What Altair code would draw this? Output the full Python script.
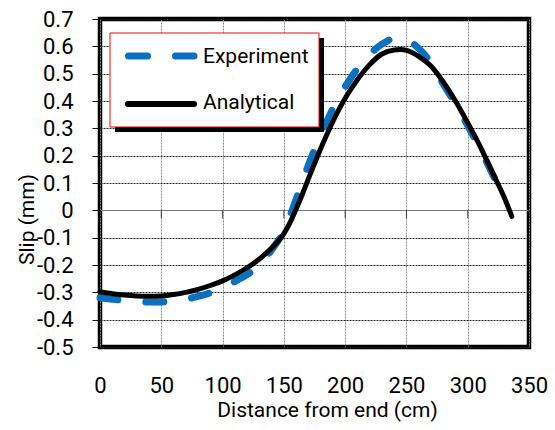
import altair as alt
import pandas as pd

# Measured slip along the bar (experiment)
DIST_EXP = [0, 10, 20, 30, 40, 50, 60, 70, 80, 90, 100, 110, 120, 130, 140, 150,
            160, 170, 180, 190, 200, 210, 220, 230, 240, 245, 250, 260, 270, 280,
            290, 300, 310, 320, 330]
SLIP_EXP = [-0.320, -0.325, -0.330, -0.334, -0.335, -0.335, -0.332, -0.325, -0.315,
            -0.302, -0.285, -0.260, -0.235, -0.200, -0.145, -0.075, 0.040, 0.165,
            0.275, 0.372, 0.452, 0.518, 0.570, 0.608, 0.630, 0.633, 0.626, 0.592,
            0.540, 0.462, 0.390, 0.310, 0.225, 0.135, 0.040]

# Analytical prediction
DIST_ANA = [0, 10, 20, 30, 40, 50, 60, 70, 80, 90, 100, 110, 120, 130, 140, 150,
            155, 160, 165, 170, 180, 190, 200, 210, 220, 230, 240, 245, 250, 260,
            270, 280, 290, 300, 310, 320, 330, 336]
SLIP_ANA = [-0.298, -0.305, -0.310, -0.313, -0.314, -0.313, -0.308, -0.300, -0.289,
            -0.275, -0.258, -0.236, -0.210, -0.178, -0.138, -0.085, -0.045, 0.005,
            0.058, 0.115, 0.225, 0.325, 0.410, 0.478, 0.533, 0.572, 0.587, 0.588,
            0.585, 0.563, 0.528, 0.470, 0.400, 0.320, 0.235, 0.140, 0.045, -0.022]

SERIES = ["Experiment", "Analytical"]
X_TICKS = [0, 50, 100, 150, 200, 250, 300, 350]
Y_TICKS = [-0.5, -0.4, -0.3, -0.2, -0.1, 0.0, 0.1, 0.2, 0.3, 0.4, 0.5, 0.6, 0.7]

FONT = "Roboto"
BLUE = "#0A70C0"
DASH = [18, 28]

exp_df = pd.DataFrame({"dist": DIST_EXP, "slip": SLIP_EXP, "series": SERIES[0]})
ana_df = pd.DataFrame({"dist": DIST_ANA, "slip": SLIP_ANA, "series": SERIES[1]})
tick_df = pd.DataFrame({"dist": X_TICKS, "slip": 0.0})

x_scale = alt.Scale(domain=[0, 350], nice=False)
y_scale = alt.Scale(domain=[-0.5, 0.7], nice=False)

x_axis = alt.Axis(
    values=X_TICKS, format="d", title="Distance from end (cm)",
    grid=True, gridColor="#8c8c8c", gridDash=[2, 1], gridWidth=1,
    domain=False, ticks=False, labelPadding=38, labelBaseline="middle",
    labelOverlap=False, labelFlush=False, labelFontSize=22, labelFont=FONT,
    labelColor="black",
    titleFontSize=21, titleFont=FONT, titleFontWeight="normal", titleColor="black",
    titleX=227, titleY=63, titleAlign="center", titleBaseline="middle",
)
y_axis = alt.Axis(
    values=Y_TICKS, title="Slip (mm)",
    labelExpr="abs(datum.value) < 1e-9 ? '0' : (datum.value < 0 ? '-' + format(-datum.value, '.1f') : format(datum.value, '.1f'))",
    grid=True,
    gridColor={"condition": {"test": "abs(datum.value) < 1e-9", "value": "#7a7a7a"}, "value": "#222222"},
    gridDash={"condition": {"test": "abs(datum.value) < 1e-9", "value": []}, "value": [2, 1]},
    gridWidth=1, labelOverlap=False, labelFlush=False,
    domain=False, ticks=True, tickSize=8, tickColor="black", tickWidth=1,
    labelPadding=19, labelFontSize=22, labelFont=FONT, labelColor="black",
    titleFontSize=21, titleFont=FONT, titleFontWeight="normal", titleColor="black",
    titleX=-73, titleY=200, titleAlign="center", titleBaseline="middle",
)

enc_x = alt.X("dist:Q", scale=x_scale, axis=x_axis)
enc_y = alt.Y("slip:Q", scale=y_scale, axis=y_axis)

experiment = alt.Chart(exp_df).mark_line(
    color=BLUE, strokeWidth=7, strokeDash=DASH, strokeCap="round", interpolate="monotone"
).encode(x=enc_x, y=enc_y)

analytical = alt.Chart(ana_df).mark_line(
    color="black", strokeWidth=5, strokeCap="round", interpolate="monotone"
).encode(x=enc_x, y=enc_y)

# small tick marks hanging from the zero line
zero_ticks = alt.Chart(tick_df).mark_tick(
    orient="vertical", color="black", size=8, thickness=1, yOffset=4
).encode(x=enc_x, y=enc_y)

# legend box: shadow, red-bordered panel, symbols and labels
one_row = alt.Data(values=[{"k": 0}])
leg_shadow = alt.Chart(one_row).mark_rect(color="black").encode(
    x=alt.value(15), x2=alt.value(224), y=alt.value(19), y2=alt.value(113))
leg_box = alt.Chart(one_row).mark_rect(fill="white", stroke="#ff0000", strokeWidth=1).encode(
    x=alt.value(10), x2=alt.value(219), y=alt.value(14), y2=alt.value(108))
leg_exp_sym = alt.Chart(one_row).mark_rule(
    color=BLUE, strokeWidth=7, strokeDash=[19, 28], strokeCap="round").encode(
    x=alt.value(28.5), x2=alt.value(94), y=alt.value(37))
leg_ana_sym = alt.Chart(one_row).mark_rule(
    color="black", strokeWidth=6, strokeCap="round").encode(
    x=alt.value(28), x2=alt.value(94), y=alt.value(85))
leg_exp_txt = alt.Chart(one_row).mark_text(
    align="left", baseline="middle", font=FONT, fontSize=21, color="black",
    text=SERIES[0]).encode(x=alt.value(103), y=alt.value(38))
leg_ana_txt = alt.Chart(one_row).mark_text(
    align="left", baseline="middle", font=FONT, fontSize=21, color="black",
    text=SERIES[1]).encode(x=alt.value(103), y=alt.value(84))

chart = alt.layer(
    experiment, analytical, zero_ticks,
    leg_shadow, leg_box, leg_exp_sym, leg_ana_sym, leg_exp_txt, leg_ana_txt,
).properties(
    width=429, height=328,
    autosize=alt.AutoSizeParams(type="none"),
    padding={"left": 100, "top": 19, "right": 26, "bottom": 83},
    background="white",
).configure_view(stroke="black", strokeWidth=4.5).configure_axis(labelOverlap=False)

chart.save("out.html", embed_options={"renderer": "svg", "actions": False})
